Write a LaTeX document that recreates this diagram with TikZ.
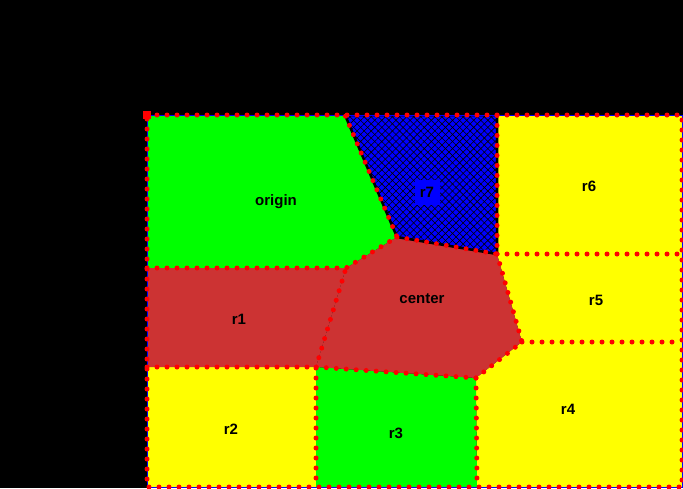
\documentclass[tikz,border=0pt]{standalone}
\usepackage{fontspec}
\setmainfont{Liberation Sans}
\usetikzlibrary{patterns.meta}
\definecolor{zonegreen}{HTML}{00FF00}
\definecolor{zoneyellow}{HTML}{FFFF00}
\definecolor{zonered}{HTML}{CC3333}
\definecolor{zoneblue}{HTML}{0000FF}
\definecolor{dotred}{HTML}{FF0000}

\begin{document}
\begin{tikzpicture}[x=1pt, y=-1pt, font=\fontsize{15}{18}\selectfont\bfseries,
  border/.style={dotred, line width=5pt, line cap=round, dash pattern=on 0pt off 10pt},
  hatch/.style={pattern={Lines[angle=#1, distance=5pt, line width=0.6pt]}, pattern color=black},
  lbl/.style={inner sep=1pt}
]
  % canvas
  \fill[black] (0,0) rectangle (683,488);
  \useasboundingbox (0,0) rectangle (683,488);

  % corner points of the map
  \coordinate (A) at (147,115);
  \coordinate (B) at (345,115);
  \coordinate (C) at (497,115);
  \coordinate (D) at (682,115);
  \coordinate (E) at (397,237);
  \coordinate (F) at (346,268);
  \coordinate (G) at (147,268);
  \coordinate (H) at (497,254);
  \coordinate (I) at (682,254);
  \coordinate (J) at (522,342);
  \coordinate (K) at (682,342);
  \coordinate (L) at (476,378);
  \coordinate (M) at (316,367);
  \coordinate (N) at (147,367);
  \coordinate (O) at (316,487);
  \coordinate (P) at (477,487);
  \coordinate (Q) at (147,487);
  \coordinate (R) at (682,487);

  % regions
  \fill[zonegreen] (A) -- (B) -- (E) -- (F) -- (G) -- cycle;
  \fill[zoneyellow] (C) -- (D) -- (I) -- (H) -- cycle;
  \fill[zoneyellow] (H) -- (I) -- (K) -- (J) -- cycle;
  \fill[zoneyellow] (J) -- (K) -- (R) -- (P) -- (L) -- cycle;
  \fill[zonegreen] (M) -- (L) -- (P) -- (O) -- cycle;
  \fill[zoneyellow] (N) -- (M) -- (O) -- (Q) -- cycle;
  \fill[zonered] (G) -- (F) -- (M) -- (N) -- cycle;
  \fill[zonered] (F) -- (E) -- (H) -- (J) -- (L) -- (M) -- cycle;
  \fill[zoneblue] (B) -- (C) -- (H) -- (E) -- cycle;
  \fill[hatch=45] (B) -- (C) -- (H) -- (E) -- cycle;
  \fill[hatch=-45] (B) -- (C) -- (H) -- (E) -- cycle;
  \draw[black, line width=2.5pt, line join=round] (B) -- (C) -- (H) -- (E) -- cycle;

  % outer frame
  \draw[zoneblue, line width=1pt] (A) rectangle (R);

  % dotted borders
  \draw[border] (A) -- (D) -- (R) -- (Q) -- cycle;
  \draw[border] (G) -- (F) -- (E) -- (B);
  \draw[border] (E) -- (H) -- (C);
  \draw[border] (H) -- (I);
  \draw[border] (H) -- (J) -- (L) -- (M) -- (F);
  \draw[border] (J) -- (K);
  \draw[border] (N) -- (M) -- (O);
  \draw[border] (L) -- (P);
  \node[fill=dotred, minimum size=8pt, inner sep=0pt] (corner) at (A) {};

  % labels
  \node[lbl] (origin) at (276,202) {origin};
  \node[lbl, fill=zoneblue, minimum size=25pt] (r7) at (427,192) {r7};
  \node[lbl] (r6) at (589,186) {r6};
  \node[lbl] (center) at (422,299) {center};
  \node[lbl] (r1) at (239,319) {r1};
  \node[lbl] (r5) at (596,300) {r5};
  \node[lbl] (r2) at (231,429) {r2};
  \node[lbl] (r3) at (396,433) {r3};
  \node[lbl] (r4) at (568,409) {r4};
\end{tikzpicture}
\end{document}
